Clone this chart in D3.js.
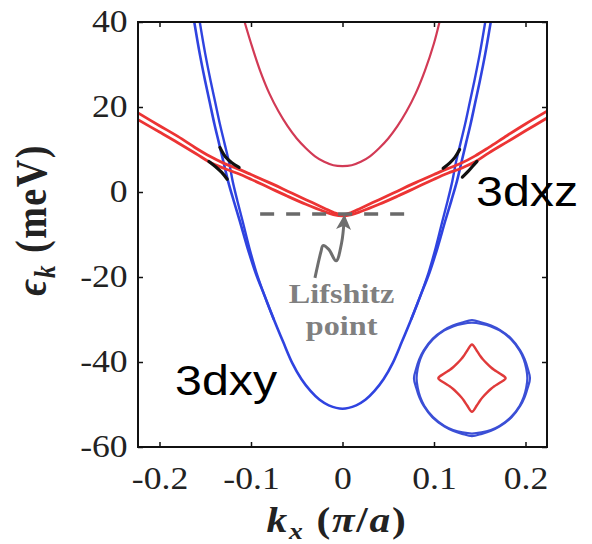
<!DOCTYPE html>
<html>
<head>
<meta charset="utf-8">
<script src="https://cdn.jsdelivr.net/npm/d3@7"></script>
<style>
  body { margin: 0; background: #fff; }
  svg { display: block; }
</style>
</head>
<body>
<div id="chart"></div>
<script>
// ticks
var kTicks = [-0.2, -0.1, 0, 0.1, 0.2];
var eTicks = [-60, -40, -20, 0, 20, 40];

// 3dxy band (blue), two close lines
var blueOuterK = [-0.162, -0.156, -0.150, -0.145, -0.140, -0.135, -0.130, -0.125, -0.119, -0.112, -0.104, -0.095, -0.085, -0.075, -0.065, -0.055, -0.045, -0.035, -0.025, -0.015, 0,
                  0.015, 0.025, 0.035, 0.045, 0.055, 0.065, 0.075, 0.085, 0.095, 0.104, 0.112, 0.119, 0.125, 0.130, 0.135, 0.140, 0.145, 0.150, 0.156, 0.162];
var blueOuterE = [40, 32.5, 26, 21, 16, 11.5, 7, 2.5, -2, -7, -13, -19, -24.5, -30, -35.2, -40.2, -44, -46.8, -48.9, -50.2, -51,
                  -50.2, -48.9, -46.8, -44, -40.2, -35.2, -30, -24.5, -19, -13, -7, -2, 2.5, 7, 11.5, 16, 21, 26, 32.5, 40];
var blueInnerK = [-0.156, -0.150, -0.144, -0.139, -0.134, -0.129, -0.124, -0.120, -0.115, -0.109, -0.102, -0.094, -0.085, -0.075,
                  0.075, 0.085, 0.094, 0.102, 0.109, 0.115, 0.120, 0.124, 0.129, 0.134, 0.139, 0.144, 0.150, 0.156];
var blueInnerE = [40, 32.5, 26, 21, 16, 11.5, 7, 2.5, -2, -7, -13, -19, -24.5, -30,
                  -30, -24.5, -19, -13, -7, -2, 2.5, 7, 11.5, 16, 21, 26, 32.5, 40];

// 3dxz band (red), two close lines
var redK = [-0.2235, -0.2, -0.18, -0.16, -0.145, -0.13, -0.115, -0.10, -0.08, -0.06, -0.04, -0.02, -0.01, 0,
            0.01, 0.02, 0.04, 0.06, 0.08, 0.10, 0.115, 0.13, 0.145, 0.16, 0.18, 0.2, 0.2235];
var redUpperE = [18.6, 15.6, 13.1, 10.3, 8.4, 6.8, 5.5, 4.1, 2.2, 0.2, -1.8, -3.8, -4.8, -5.3,
                 -4.8, -3.8, -1.8, 0.2, 2.2, 4.1, 5.5, 6.8, 8.5, 10.5, 13.3, 16.0, 19.0];
var redLowerE = [17.0, 14.1, 11.6, 9.0, 7.0, 5.6, 4.4, 3.0, 1.0, -1.0, -2.9, -4.6, -5.3, -5.6,
                 -5.3, -4.6, -2.9, -1.0, 1.0, 3.0, 4.4, 5.6, 7.1, 9.2, 11.8, 14.4, 17.4];

// upper band (crimson)
var topK = [-0.107, -0.10, -0.09, -0.08, -0.07, -0.06, -0.05, -0.04, -0.03, -0.02, -0.01, 0,
            0.01, 0.02, 0.03, 0.04, 0.05, 0.06, 0.07, 0.08, 0.09, 0.10, 0.106];
var topE = [40, 35, 28.5, 23.2, 19, 15.5, 12.6, 10.3, 8.4, 7.1, 6.3, 6.1,
            6.3, 7.1, 8.4, 10.3, 12.6, 15.5, 19, 23.2, 28.5, 35, 40];

// hybridisation pieces (black)
var mixSegments = [
  {k: [-0.134, -0.128, -0.121, -0.113], e: [10.5, 8.3, 6.9, 5.8]},
  {k: [-0.146, -0.139, -0.132, -0.126], e: [7.2, 6.0, 4.6, 3.0]},
  {k: [0.110, 0.117, 0.123, 0.128], e: [5.6, 6.8, 8.2, 10.0]},
  {k: [0.131, 0.137, 0.142, 0.147], e: [3.5, 4.8, 6.0, 7.2]}
];

// Lifshitz marker
var lifshitzE = -5.2;
var dashK = [-0.09, 0.08];
var squiggleK = [-0.0301, -0.0235, -0.0213, -0.0150, -0.0070, -0.0010, 0.0020];
var squiggleE = [-20.2, -14.0, -12.6, -13.5, -16.2, -12.0, -6.0];

// Fermi surface inset (angle in degrees, radius in units)
var fsAngles = [0, 10, 20, 30, 45, 60, 70, 80, 90, 100, 110, 120, 135, 150, 160, 170,
                180, 190, 200, 210, 225, 240, 250, 260, 270, 280, 290, 300, 315, 330, 340, 350];
var fsBlueOuter = [1.0, 0.975, 0.965, 0.96, 0.96, 0.96, 0.965, 0.975, 1.0, 0.975, 0.965, 0.96, 0.96, 0.96, 0.965, 0.975,
                   1.0, 0.975, 0.965, 0.96, 0.96, 0.96, 0.965, 0.975, 1.0, 0.975, 0.965, 0.96, 0.96, 0.96, 0.965, 0.975];
var fsBlueInner = [0.955, 0.95, 0.95, 0.95, 0.95, 0.95, 0.95, 0.95, 0.955, 0.95, 0.95, 0.95, 0.95, 0.95, 0.95, 0.95,
                   0.955, 0.95, 0.95, 0.95, 0.95, 0.95, 0.95, 0.95, 0.955, 0.95, 0.95, 0.95, 0.95, 0.95, 0.95, 0.95];
var fsRed = [0.58, 0.48, 0.41, 0.375, 0.36, 0.375, 0.41, 0.48, 0.58, 0.48, 0.41, 0.375, 0.36, 0.375, 0.41, 0.48,
             0.58, 0.48, 0.41, 0.375, 0.36, 0.375, 0.41, 0.48, 0.58, 0.48, 0.41, 0.375, 0.36, 0.375, 0.41, 0.48];
var insetCenter = {k: 0.1415, e: -43.8};

// ---- chart ----
var svgWidth = 592, svgHeight = 544;
var margin = {top: 22, right: 45, bottom: 97, left: 138};
var width = svgWidth - margin.left - margin.right;
var height = svgHeight - margin.top - margin.bottom;
var stretch = "scale(1.15,1)";

var svg = d3.select("#chart").append("svg")
  .attr("width", svgWidth)
  .attr("height", svgHeight)
  .style("background", "#fff");

var x = d3.scaleLinear().domain([-0.2235, 0.2235]).range([margin.left, margin.left + width]);
var y = d3.scaleLinear().domain([-60, 40]).range([margin.top + height, margin.top]);

var defs = svg.append("defs");
defs.append("clipPath").attr("id", "plotclip")
  .append("rect")
  .attr("x", margin.left).attr("y", margin.top)
  .attr("width", width).attr("height", height);

var serif = "'Liberation Serif', 'Times New Roman', serif";

// axes with inward ticks on all four sides
var bottomAxis = d3.axisBottom(x).tickValues(kTicks).tickSizeInner(-5).tickSizeOuter(0).tickPadding(20)
  .tickFormat(function(d) { return d === 0 ? "0" : d3.format(".1f")(d).replace("\u2212", "-"); });
var leftAxis = d3.axisLeft(y).tickValues(eTicks).tickSizeInner(-5).tickSizeOuter(0).tickPadding(9)
  .tickFormat(function(d) { return String(d); });

var gx = svg.append("g").attr("transform", `translate(0, ${margin.top + height})`).call(bottomAxis);
var gy = svg.append("g").attr("transform", `translate(${margin.left}, 0)`).call(leftAxis);
svg.append("g").attr("transform", `translate(0, ${margin.top})`)
  .call(d3.axisTop(x).tickValues(kTicks).tickSizeInner(-5).tickSizeOuter(0).tickFormat(""));
svg.append("g").attr("transform", `translate(${margin.left + width}, 0)`)
  .call(d3.axisRight(y).tickValues(eTicks).tickSizeInner(-5).tickSizeOuter(0).tickFormat(""));

svg.selectAll(".domain").remove();
svg.selectAll(".tick line").attr("stroke", "#111").attr("stroke-width", 1.5);
[gx, gy].forEach(function(g) {
  g.selectAll("text")
    .attr("font-family", serif)
    .attr("font-size", "31px")
    .attr("fill", "#222")
    .attr("transform", stretch);
});

// bands
var bands = svg.append("g").attr("clip-path", "url(#plotclip)");
var line = d3.line().x(function(d) { return x(d[0]); }).y(function(d) { return y(d[1]); }).curve(d3.curveCatmullRom);

function pairs(ks, es) { return ks.map(function(k, i) { return [k, es[i]]; }); }

bands.append("path").datum(pairs(topK, topE))
  .attr("d", line).attr("fill", "none").attr("stroke", "#d23a55").attr("stroke-width", 2.2);

bands.append("path").datum(pairs(blueOuterK, blueOuterE))
  .attr("d", line).attr("fill", "none").attr("stroke", "#2f43e0").attr("stroke-width", 2.6);
// inner blue line, split into its left and right branches
var innerPts = pairs(blueInnerK, blueInnerE);
[innerPts.slice(0, 14), innerPts.slice(14)].forEach(function(part) {
  bands.append("path").datum(part)
    .attr("d", line).attr("fill", "none").attr("stroke", "#2f43e0").attr("stroke-width", 2.4);
});

bands.append("path").datum(pairs(redK, redUpperE))
  .attr("d", line).attr("fill", "none").attr("stroke", "#ec3434").attr("stroke-width", 2.8);
bands.append("path").datum(pairs(redK, redLowerE))
  .attr("d", line).attr("fill", "none").attr("stroke", "#ec3434").attr("stroke-width", 2.8);

bands.selectAll(".mix").data(mixSegments).enter().append("path")
  .attr("class", "mix")
  .attr("d", function(s) { return line(pairs(s.k, s.e)); })
  .attr("fill", "none").attr("stroke", "#111").attr("stroke-width", 3.2)
  .attr("stroke-linecap", "round");

// Lifshitz point annotation
svg.append("line")
  .attr("x1", x(dashK[0])).attr("x2", x(dashK[1]))
  .attr("y1", y(lifshitzE)).attr("y2", y(lifshitzE))
  .attr("stroke", "#6a6a6a").attr("stroke-width", 3.5)
  .attr("stroke-dasharray", "14,12");

defs.append("marker")
  .attr("id", "arrow")
  .attr("viewBox", "0 0 10 10")
  .attr("refX", 8).attr("refY", 5)
  .attr("markerWidth", 6).attr("markerHeight", 5)
  .attr("markerUnits", "strokeWidth")
  .attr("orient", "auto")
  .append("path").attr("d", "M0,0 L10,5 L0,10 L2.5,5 z").attr("fill", "#6e6e6e");

svg.append("path").datum(pairs(squiggleK, squiggleE))
  .attr("d", line)
  .attr("fill", "none").attr("stroke", "#6e6e6e").attr("stroke-width", 3)
  .attr("stroke-linejoin", "round")
  .attr("marker-end", "url(#arrow)");

var lifLabel = svg.append("g")
  .attr("transform", `translate(${x(-0.001)}, ${y(-26)})`);
lifLabel.append("text")
  .attr("transform", stretch)
  .attr("text-anchor", "middle")
  .attr("font-family", serif).attr("font-weight", "bold")
  .attr("font-size", "28px").attr("fill", "#808080")
  .text("Lifshitz");
lifLabel.append("text")
  .attr("transform", stretch)
  .attr("y", 33)
  .attr("text-anchor", "middle")
  .attr("font-family", serif).attr("font-weight", "bold")
  .attr("font-size", "28px").attr("fill", "#808080")
  .text("point");

// Fermi surface inset
var cx = x(insetCenter.k), cy = y(insetCenter.e);
var unit = 58;
var radial = d3.lineRadial()
  .angle(function(d) { return d[0] * Math.PI / 180; })
  .radius(function(d) { return d[1] * unit; })
  .curve(d3.curveCatmullRomClosed);
var inset = svg.append("g").attr("transform", `translate(${cx}, ${cy})`);
[fsBlueOuter, fsBlueInner].forEach(function(r) {
  inset.append("path").datum(pairs(fsAngles, r))
    .attr("d", radial).attr("fill", "none")
    .attr("stroke", "#3b4fd6").attr("stroke-width", 2.2);
});
inset.append("path").datum(pairs(fsAngles, fsRed))
  .attr("d", radial).attr("fill", "none")
  .attr("stroke", "#e03a3a").attr("stroke-width", 2.4);

// frame
svg.append("rect")
  .attr("x", margin.left).attr("y", margin.top)
  .attr("width", width).attr("height", height)
  .attr("fill", "none").attr("stroke", "#111").attr("stroke-width", 2);

// orbital labels
var sans = "'Liberation Sans', Arial, Helvetica, sans-serif";
svg.append("g").attr("transform", `translate(${x(-0.183)}, ${y(-47.8)})`)
  .append("text").attr("transform", stretch)
  .attr("font-family", sans).attr("font-size", "42px").attr("fill", "#000")
  .text("3dxy");
svg.append("g").attr("transform", `translate(${x(0.146)}, ${y(-3.3)})`)
  .append("text").attr("transform", stretch)
  .attr("font-family", sans).attr("font-size", "42px").attr("fill", "#000")
  .text("3dxz");

// axis titles
var xt = svg.append("g").attr("transform", `translate(${x(-0.006)}, 532)`)
  .append("text").attr("transform", stretch)
  .attr("text-anchor", "middle")
  .attr("font-family", serif).attr("font-weight", "bold")
  .attr("font-size", "36px").attr("letter-spacing", "1.5px").attr("fill", "#222");
xt.append("tspan").attr("font-style", "italic").text("k");
xt.append("tspan").attr("font-style", "italic").attr("font-size", "24px").attr("dy", 7).text("x");
xt.append("tspan").attr("dy", -7).text(" (");
xt.append("tspan").attr("font-style", "italic").text("\u03c0");
xt.append("tspan").text("/");
xt.append("tspan").attr("font-style", "italic").text("a");
xt.append("tspan").text(")");

var yt = svg.append("g").attr("transform", `translate(46, 220) ${stretch} rotate(-90)`)
  .append("text")
  .attr("text-anchor", "middle")
  .attr("font-family", serif).attr("font-weight", "bold")
  .attr("font-size", "38px").attr("letter-spacing", "1.5px").attr("fill", "#222");
yt.append("tspan").attr("font-style", "italic").text("\u03f5");
yt.append("tspan").attr("font-style", "italic").attr("font-size", "25px").attr("dy", 8).text("k");
yt.append("tspan").attr("dy", -8).text(" (meV)");
</script>
</body>
</html>
